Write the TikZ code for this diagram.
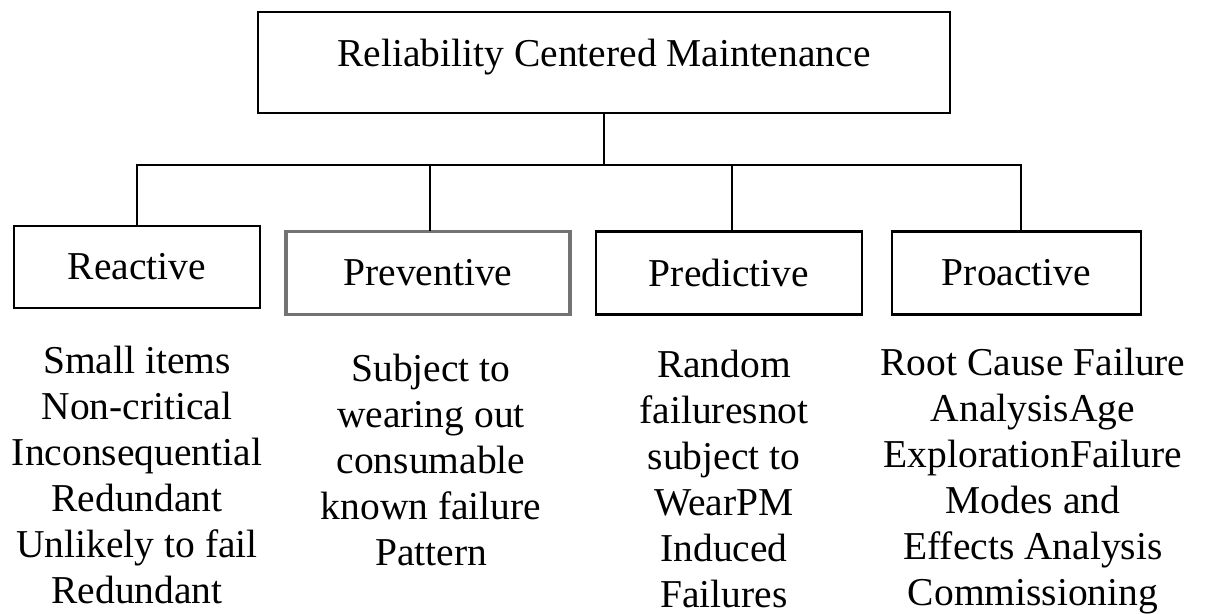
\documentclass[tikz,border=0pt]{standalone}
\usepackage{fontspec}
\setmainfont{Liberation Serif}
\begin{document}
\begin{tikzpicture}[x=1pt,y=-1pt,
  box/.style={draw=black,line width=2.6pt,inner sep=0pt,font=\fontsize{39.5}{46}\selectfont},
  greybox/.style={box,draw=black!55,line width=3.4pt},
  desc/.style={inner sep=0pt,align=center,anchor=north,font=\fontsize{39.5}{46}\selectfont},
  conn/.style={line width=2.4pt,line cap=rect}]
\useasboundingbox (0,0) rectangle (1207,613);
\node[box,minimum width=692pt,minimum height=101pt,text height=27pt,text depth=19pt] (top) at (604,62.5) {Reliability Centered Maintenance};
\node[box,minimum width=246pt,minimum height=82pt] (reactive) at (137,267) {Reactive};
\node[greybox,minimum width=284pt,minimum height=83pt] (preventive) at (428,273) {Preventive};
\node[box,minimum width=266pt,minimum height=83pt] (predictive) at (729,273) {Predictive};
\node[box,minimum width=249pt,minimum height=83pt] (proactive) at (1016.5,273) {Proactive};
\coordinate (bus) at (604,165);
\coordinate (j1) at (137,165);
\coordinate (j2) at (430,165);
\coordinate (j3) at (732,165);
\coordinate (j4) at (1021,165);
\draw[conn] (top.south -| bus) -- (bus);
\draw[conn] (j1) -- (j4);
\draw[conn] (j1) -- (reactive.north -| j1);
\draw[conn] (j2) -- (preventive.north -| j2);
\draw[conn] (j3) -- (predictive.north -| j3);
\draw[conn] (j4) -- (proactive.north -| j4);
\node[desc] (d1) at (137,341) {\strut Small items\\Non-critical\\Inconsequential\\Redundant\\Unlikely to fail\\Redundant};
\node[desc] (d2) at (431,349) {\strut Subject to\\wearing out\\consumable\\known failure\\Pattern};
\node[desc] (d3) at (724,345) {\strut Random\\failuresnot\\subject to\\WearPM\\Induced\\Failures};
\node[desc] (d4) at (1033,343) {\strut Root Cause Failure\\AnalysisAge\\ExplorationFailure\\Modes and\\Effects Analysis\\Commissioning};
\end{tikzpicture}
\end{document}
